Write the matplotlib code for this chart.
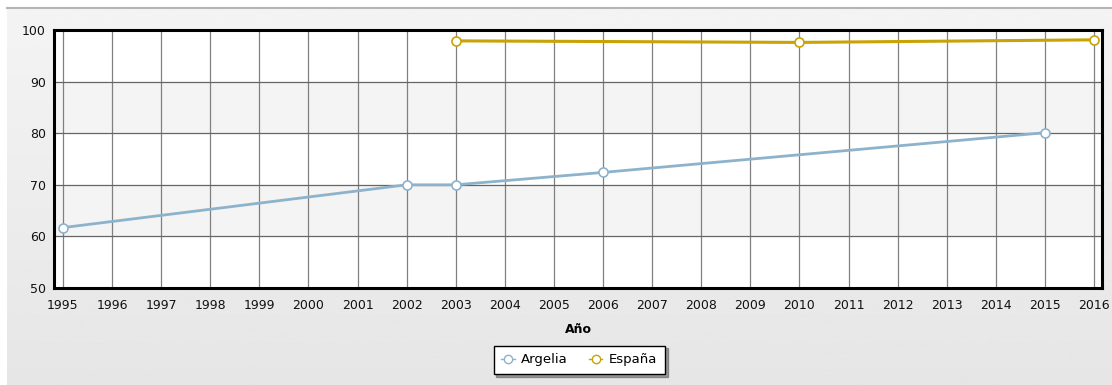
import numpy as np
import matplotlib
matplotlib.use("Agg")
from matplotlib import pyplot as plt
from matplotlib.lines import Line2D

# series values (percent)
years = list(range(1995, 2017))
argelia_years = [1995, 2002, 2003, 2006, 2015]
argelia_vals = [61.7, 70.0, 70.0, 72.4, 80.1]
espana_years = [2003, 2010, 2016]
espana_vals = [97.9, 97.6, 98.1]

argelia_color = "#8db3cc"
espana_color = "#c9a204"

plt.rcParams["font.family"] = ["DejaVu Sans"]

fig = plt.figure(figsize=(11.12, 3.85), dpi=100, facecolor="white")

# soft grey gradient behind the chart
bg = fig.add_axes([0.006, 0, 0.994, 0.979], zorder=-10)
grad = np.linspace(0.90, 0.955, 256).reshape(-1, 1)
bg.imshow(grad, aspect="auto", cmap="gray", vmin=0, vmax=1,
          extent=[0, 1, 0, 1], origin="lower")
bg.set_axis_off()
fig.add_artist(Line2D([0.006, 1], [0.979, 0.979], color="#b5b5b5", lw=1.5,
                      transform=fig.transFigure))

ax = fig.add_axes([0.0486, 0.252, 0.9424, 0.67])
ax.set_facecolor("white")

# alternating horizontal bands
for lo in (60, 80):
    ax.axhspan(lo, lo + 10, color="#f4f4f4", zorder=0)

ax.set_xlim(1994.82, 2016.16)
ax.set_ylim(50, 100)
ax.set_xticks(years)
ax.set_yticks([50, 60, 70, 80, 90, 100])
ax.xaxis.grid(True, color="#808080", lw=0.9)
ax.yaxis.grid(True, color="#666666", lw=0.9)
ax.set_axisbelow(True)
ax.tick_params(length=0, labelsize=9, colors="#111111")
ax.tick_params(axis="x", pad=8)
ax.tick_params(axis="y", pad=6)

for s in ax.spines.values():
    s.set_color("black")
    s.set_linewidth(2.2)

ax.plot(argelia_years, argelia_vals, color=argelia_color, lw=2, marker="o",
        ms=6.5, mfc="white", mec=argelia_color, mew=1.2, label="Argelia",
        zorder=3, clip_on=False)
ax.plot(espana_years, espana_vals, color=espana_color, lw=2.2, marker="o",
        ms=6.5, mfc="white", mec=espana_color, mew=1.2, label="España",
        zorder=3, clip_on=False)

ax.set_xlabel("Año", fontsize=9, fontweight="bold", labelpad=8)

handles = [
    Line2D([], [], color=argelia_color, lw=1, marker="o", ms=6, mfc="white",
           mec=argelia_color),
    Line2D([], [], color=espana_color, lw=1, marker="o", ms=6, mfc="white",
           mec=espana_color),
]
leg = fig.legend(handles, ["Argelia", "España"], loc="center",
                 bbox_to_anchor=(0.521, 0.065), ncol=2, fontsize=9.5,
                 frameon=True, fancybox=False, shadow=True,
                 handlelength=1.0, handletextpad=0.5, columnspacing=1.6,
                 borderpad=0.6, borderaxespad=0)
leg.get_frame().set_edgecolor("black")
leg.get_frame().set_linewidth(1.0)

fig.savefig("out.png", dpi=100)
